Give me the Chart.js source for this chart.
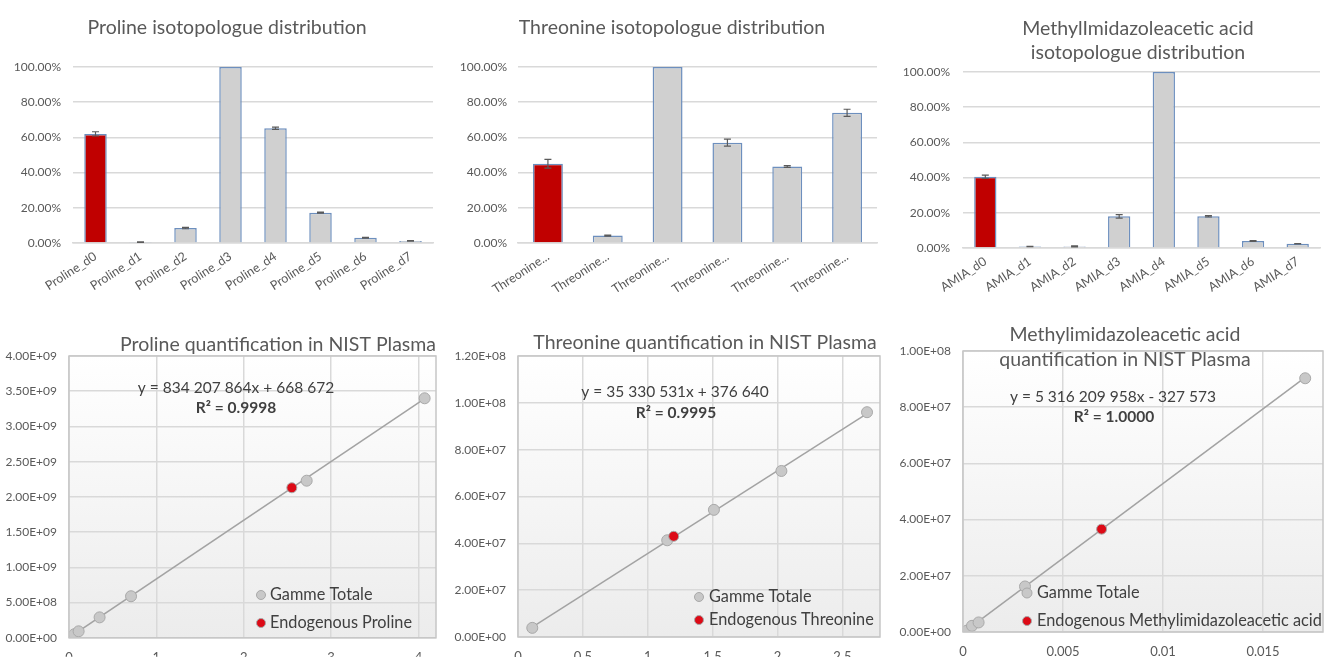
<!DOCTYPE html>
<html>
<head>
<meta charset="utf-8">
<script src="https://cdn.jsdelivr.net/npm/chart.js@4.4.1/dist/chart.umd.min.js"></script>
<style>
  html, body { margin: 0; padding: 0; background: #ffffff; }
  body { width: 1336px; height: 657px; position: relative; overflow: hidden; }
  canvas { position: absolute; }
</style>
</head>
<body>
<canvas id="c1" width="445" height="320" style="left:0px;top:0px;"></canvas>
<canvas id="c2" width="445" height="320" style="left:445px;top:0px;"></canvas>
<canvas id="c3" width="446" height="320" style="left:890px;top:0px;"></canvas>
<canvas id="c4" width="445" height="337" style="left:0px;top:320px;"></canvas>
<canvas id="c5" width="445" height="337" style="left:445px;top:320px;"></canvas>
<canvas id="c6" width="446" height="337" style="left:890px;top:320px;"></canvas>
<script>
// ---------- DATA ----------
const proLabels = ['Proline_d0','Proline_d1','Proline_d2','Proline_d3','Proline_d4','Proline_d5','Proline_d6','Proline_d7'];
const proValues = [62, 0.5, 8.5, 100, 65.2, 17.2, 3.0, 1.2];
const proErrors = [1.2, 0.1, 0.4, 0, 0.6, 0.3, 0.2, 0.1];

const thrLabels = ['Threonine...','Threonine...','Threonine...','Threonine...','Threonine...','Threonine...'];
const thrValues = [45, 4.2, 100, 57, 43.5, 74];
const thrErrors = [2.5, 0.3, 0, 2.0, 0.5, 2.0];

const amiaLabels = ['AMIA_d0','AMIA_d1','AMIA_d2','AMIA_d3','AMIA_d4','AMIA_d5','AMIA_d6','AMIA_d7'];
const amiaValues = [40.5, 0.8, 0.9, 18, 100, 18, 4.0, 2.4];
const amiaErrors = [0.9, 0.1, 0.3, 1.0, 0, 0.4, 0.2, 0.1];

const pctTicks = [0, 20, 40, 60, 80, 100];

// Proline calibration
const proGammeX = [0.01, 0.06, 0.11, 0.35, 0.71, 2.72, 4.07];
const proGammeY = [9e6, 5.0e7, 9.2e7, 2.9e8, 5.9e8, 2.23e9, 3.40e9];
const proEndoX = [2.55];
const proEndoY = [2.13e9];
const proTrendX = [0, 4.07];
const proTrendY = [6.69e5, 3.396e9];
const proXTicks = [0, 1, 2, 3, 4];
const proYTicks = [0, 5e8, 1e9, 1.5e9, 2e9, 2.5e9, 3e9, 3.5e9, 4e9];

// Threonine calibration
const thrGammeX = [0.11, 1.15, 1.51, 2.03, 2.69];
const thrGammeY = [3.9e6, 4.13e7, 5.43e7, 7.09e7, 9.6e7];
const thrEndoX = [1.20];
const thrEndoY = [4.3e7];
const thrTrendX = [0.11, 2.69];
const thrTrendY = [4.26e6, 9.54e7];
const thrXTicks = [0, 0.5, 1, 1.5, 2, 2.5];
const thrYTicks = [0, 2e7, 4e7, 6e7, 8e7, 1e8, 1.2e8];

// Methylimidazoleacetic acid calibration
const amiaGammeX = [0.0002, 0.00045, 0.00078, 0.0031, 0.01711];
const amiaGammeY = [5e5, 2.2e6, 3.4e6, 1.62e7, 9.03e7];
const amiaEndoX = [0.00693];
const amiaEndoY = [3.66e7];
const amiaTrendX = [0.0002, 0.01711];
const amiaTrendY = [7.4e5, 9.06e7];
const amiaXTicks = [0, 0.005, 0.01, 0.015];
const amiaYTicks = [0, 2e7, 4e7, 6e7, 8e7, 1e8];

// ---------- STYLE / HELPERS ----------
Chart.defaults.font.family = 'Lato, "Open Sans", sans-serif';
Chart.defaults.color = '#595959';
Chart.defaults.animation = false;

const GRID = '#d9d9d9';
const TXT = '#595959';

function sci(v) {
  if (v === 0) return '0.00E+00';
  let e = Math.floor(Math.log10(Math.abs(v)) + 1e-9);
  let ms = (v / Math.pow(10, e)).toFixed(2);
  if (ms === '10.00') { e += 1; ms = (v / Math.pow(10, e)).toFixed(2); }
  const es = (e < 0 ? '-' : '+') + String(Math.abs(e)).padStart(2, '0');
  return ms + 'E' + es;
}
function zip(xs, ys) { return xs.map((x, i) => ({x: x, y: ys[i]})); }

// Plugin: error bars
const errorBars = {
  id: 'errorBars',
  afterDatasetsDraw(chart) {
    const ctx = chart.ctx;
    const ys = chart.scales.y;
    chart.data.datasets.forEach((ds, di) => {
      if (!ds.errors) return;
      const meta = chart.getDatasetMeta(di);
      meta.data.forEach((bar, i) => {
        const e = ds.errors[i];
        if (!e) return;
        const v = ds.data[i];
        const yTop = ys.getPixelForValue(v + e);
        const yBot = ys.getPixelForValue(v - e);
        ctx.save();
        ctx.strokeStyle = '#5a5a5a';
        ctx.lineWidth = 1.2;
        ctx.beginPath();
        ctx.moveTo(bar.x, yTop); ctx.lineTo(bar.x, yBot);
        ctx.moveTo(bar.x - 3.5, yTop); ctx.lineTo(bar.x + 3.5, yTop);
        ctx.moveTo(bar.x - 3.5, yBot); ctx.lineTo(bar.x + 3.5, yBot);
        ctx.stroke();
        ctx.restore();
      });
    });
  }
};

// Plugin: free texts (titles, equations, legends)
const texts = {
  id: 'texts',
  afterDraw(chart, args, opts) {
    const ctx = chart.ctx;
    (opts.items || []).forEach(t => {
      ctx.save();
      ctx.font = (t.bold ? 'bold ' : '') + t.size + 'px ' + Chart.defaults.font.family;
      ctx.fillStyle = t.color || TXT;
      ctx.textAlign = t.align || 'center';
      ctx.textBaseline = 'middle';
      ctx.fillText(t.text, t.x, t.y);
      ctx.restore();
    });
    (opts.markers || []).forEach(m => {
      ctx.save();
      ctx.beginPath();
      ctx.arc(m.x, m.y, m.r, 0, Math.PI * 2);
      ctx.fillStyle = m.fill;
      ctx.fill();
      ctx.lineWidth = 1;
      ctx.strokeStyle = m.stroke;
      ctx.stroke();
      ctx.restore();
    });
  }
};

// Plugin: plot-area background gradient and border
const plotFrame = {
  id: 'plotFrame',
  beforeDraw(chart, args, opts) {
    if (!opts.enabled) return;
    const {ctx, chartArea: a} = chart;
    const g = ctx.createLinearGradient(0, a.top, 0, a.bottom);
    g.addColorStop(0, '#ffffff');
    g.addColorStop(1, '#ececec');
    ctx.save();
    ctx.fillStyle = g;
    ctx.fillRect(a.left, a.top, a.right - a.left, a.bottom - a.top);
    ctx.restore();
  },
  afterDraw(chart, args, opts) {
    if (!opts.enabled) return;
    const {ctx, chartArea: a} = chart;
    ctx.save();
    ctx.strokeStyle = '#c6c6c6';
    ctx.lineWidth = 1.5;
    ctx.strokeRect(a.left, a.top, a.right - a.left, a.bottom - a.top);
    ctx.restore();
  }
};

function barChart(id, labels, values, errors, cfg) {
  new Chart(document.getElementById(id), {
    type: 'bar',
    data: {
      labels: labels,
      datasets: [{
        data: values,
        errors: errors,
        backgroundColor: values.map((v, i) => i === 0 ? '#c00000' : '#d0d0d0'),
        borderColor: '#6d8fbe',
        borderWidth: 1.5,
        borderSkipped: 'bottom',
        barPercentage: 0.5,
        categoryPercentage: 1.0
      }]
    },
    options: {
      responsive: false,
      devicePixelRatio: 1,
      layout: { padding: { top: cfg.top, right: cfg.right, left: 0, bottom: 0 } },
      plugins: {
        legend: { display: false },
        tooltip: { enabled: false },
        texts: { items: cfg.texts }
      },
      scales: {
        x: {
          grid: { display: false, drawTicks: false },
          border: { display: true, color: GRID, width: 1.5 },
          ticks: { autoSkip: false, maxRotation: 33, minRotation: 33, padding: 6,
                   color: TXT, font: { size: 12.5 } },
          afterFit: s => { s.height = cfg.xh; }
        },
        y: {
          min: 0, max: 100,
          afterBuildTicks: s => { s.ticks = pctTicks.map(v => ({value: v})); },
          grid: { color: GRID, lineWidth: 1.5, drawTicks: false },
          border: { display: false },
          ticks: { padding: cfg.ypad, color: TXT, font: { size: 12 },
                   callback: v => v.toFixed(2) + '%' },
          afterFit: s => { s.width = cfg.yw; }
        }
      }
    },
    plugins: [errorBars, texts]
  });
}

function calChart(id, gx, gy, ex, ey, tx, ty, xt, yt, cfg) {
  new Chart(document.getElementById(id), {
    type: 'scatter',
    data: {
      datasets: [
        { label: 'Gamme Totale', data: zip(gx, gy), pointRadius: 5.5,
          backgroundColor: '#c8c8c8', borderColor: '#a9a9a9', borderWidth: 1, order: 2 },
        { label: cfg.endoLabel, data: zip(ex, ey), pointRadius: 5,
          backgroundColor: '#dd0a16', borderColor: '#a8a8a8', borderWidth: 1, order: 1 },
        { label: 'trend', data: zip(tx, ty), showLine: true, pointRadius: 0,
          borderColor: '#a3a3a3', borderWidth: 1.5, order: 3 }
      ]
    },
    options: {
      responsive: false,
      devicePixelRatio: 1,
      layout: { padding: { top: cfg.top, right: cfg.right, left: 0, bottom: 0 } },
      plugins: {
        legend: { display: false },
        tooltip: { enabled: false },
        plotFrame: { enabled: true },
        texts: { items: cfg.texts, markers: cfg.markers }
      },
      scales: {
        x: {
          type: 'linear', min: 0, max: cfg.xmax,
          afterBuildTicks: s => { s.ticks = xt.map(v => ({value: v})); },
          ticks: { padding: 12, color: TXT, font: { size: 13 },
                   callback: v => String(Math.round(v * 1e5) / 1e5) },
          grid: { color: GRID, lineWidth: 1.5, drawTicks: false },
          border: { display: false },
          afterFit: s => { s.height = cfg.xh; }
        },
        y: {
          type: 'linear', min: 0, max: cfg.ymax,
          afterBuildTicks: s => { s.ticks = yt.map(v => ({value: v})); },
          ticks: { padding: 12, color: TXT, font: { size: 12 },
                   callback: v => sci(v) },
          grid: { color: GRID, lineWidth: 1.5, drawTicks: false },
          border: { display: false },
          afterFit: s => { s.width = cfg.yw; }
        }
      }
    },
    plugins: [plotFrame, texts]
  });
}

// ---------- CHARTS ----------
const TS = 19.5;
const LS = 16.3;
barChart('c1', proLabels, proValues, proErrors, {
  top: 67, right: 12, xh: 77, yw: 73, ypad: 12,
  texts: [{ text: 'Proline isotopologue distribution', x: 227, y: 28, size: TS }]
});
barChart('c2', thrLabels, thrValues, thrErrors, {
  top: 67, right: 13, xh: 77, yw: 73, ypad: 11,
  texts: [{ text: 'Threonine isotopologue distribution', x: 227, y: 28, size: TS }]
});
barChart('c3', amiaLabels, amiaValues, amiaErrors, {
  top: 72, right: 16, xh: 72, yw: 73, ypad: 13,
  texts: [{ text: 'MethylImidazoleacetic acid', x: 248, y: 29, size: TS },
          { text: 'isotopologue distribution', x: 248, y: 53, size: TS }]
});

calChart('c4', proGammeX, proGammeY, proEndoX, proEndoY, proTrendX, proTrendY, proXTicks, proYTicks, {
  endoLabel: 'Endogenous Proline',
  top: 36, right: 9, xh: 19, yw: 69, xmax: 4.2, ymax: 4e9,
  texts: [
    { text: 'Proline quantification in NIST Plasma', x: 278, y: 25, size: TS },
    { text: 'y = 834 207 864x + 668 672', x: 236, y: 68, size: 15.5, color: '#404040' },
    { text: 'R² = 0.9998', x: 236, y: 88, size: 15.5, bold: true, color: '#404040' },
    { text: 'Gamme Totale', x: 270, y: 275, size: LS, align: 'left', color: '#404040' },
    { text: 'Endogenous Proline', x: 270, y: 303, size: LS, align: 'left', color: '#404040' }
  ],
  markers: [
    { x: 261, y: 275, r: 4.5, fill: '#c8c8c8', stroke: '#a9a9a9' },
    { x: 261, y: 303, r: 4.5, fill: '#dd0a16', stroke: '#a8a8a8' }
  ]
});

calChart('c5', thrGammeX, thrGammeY, thrEndoX, thrEndoY, thrTrendX, thrTrendY, thrXTicks, thrYTicks, {
  endoLabel: 'Endogenous Threonine',
  top: 36, right: 10, xh: 20, yw: 73, xmax: 2.79, ymax: 1.2e8,
  texts: [
    { text: 'Threonine quantification in NIST Plasma', x: 260, y: 23, size: TS },
    { text: 'y = 35 330 531x + 376 640', x: 230, y: 72, size: 15.5, color: '#404040' },
    { text: 'R² = 0.9995', x: 231, y: 93, size: 15.5, bold: true, color: '#404040' },
    { text: 'Gamme Totale', x: 264, y: 277, size: LS, align: 'left', color: '#404040' },
    { text: 'Endogenous Threonine', x: 264, y: 300, size: LS, align: 'left', color: '#404040' }
  ],
  markers: [
    { x: 254, y: 277, r: 4.5, fill: '#c8c8c8', stroke: '#a9a9a9' },
    { x: 254, y: 300, r: 4.5, fill: '#dd0a16', stroke: '#a8a8a8' }
  ]
});

calChart('c6', amiaGammeX, amiaGammeY, amiaEndoX, amiaEndoY, amiaTrendX, amiaTrendY, amiaXTicks, amiaYTicks, {
  endoLabel: 'Endogenous Methylimidazoleacetic acid',
  top: 31, right: 13, xh: 25, yw: 73, xmax: 0.018, ymax: 1e8,
  texts: [
    { text: 'Methylimidazoleacetic acid', x: 235, y: 15, size: TS },
    { text: 'quantification in NIST Plasma', x: 235, y: 40, size: TS },
    { text: 'y = 5 316 209 958x - 327 573', x: 223, y: 77, size: 15.5, color: '#404040' },
    { text: 'R² = 1.0000', x: 224, y: 97, size: 15.5, bold: true, color: '#404040' },
    { text: 'Gamme Totale', x: 147, y: 273, size: LS, align: 'left', color: '#404040' },
    { text: 'Endogenous Methylimidazoleacetic acid', x: 147, y: 301, size: LS, align: 'left', color: '#404040' }
  ],
  markers: [
    { x: 137, y: 273, r: 5, fill: '#c8c8c8', stroke: '#a9a9a9' },
    { x: 137, y: 301, r: 4.5, fill: '#dd0a16', stroke: '#a8a8a8' }
  ]
});
</script>
</body>
</html>
